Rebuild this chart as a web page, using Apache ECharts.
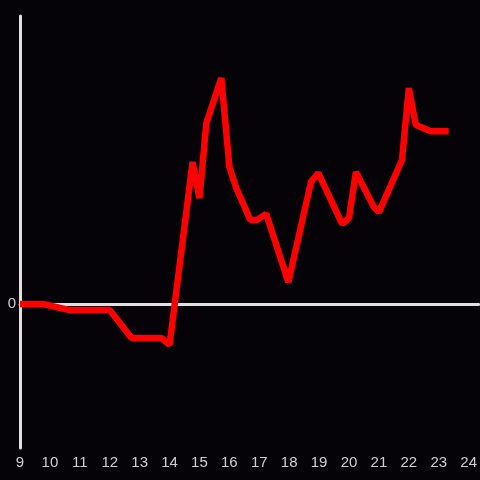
<!DOCTYPE html>
<html>
<head>
<meta charset="utf-8">
<script src="https://cdn.jsdelivr.net/npm/echarts@6/dist/echarts.min.js"></script>
<style>
  html, body { margin: 0; padding: 0; background: #050307; }
  #chart { width: 480px; height: 480px; }
</style>
</head>
<body>
<div id="chart"></div>
<script>
// hours of the day and the value at each
const hours = [9, 9.77, 10.67, 12, 12.73, 13.73, 14, 14.77, 15, 15.23, 15.73, 16, 16.23, 16.7, 16.93, 17.23, 17.97, 18.73, 18.97, 19.77, 20, 20.23, 20.83, 21, 21.77, 22, 22.23, 22.73, 23.33];
const values = [0, 0, -0.21, -0.21, -1.18, -1.18, -1.42, 4.93, 3.68, 6.28, 7.85, 4.76, 4.03, 2.92, 2.92, 3.13, 0.76, 4.24, 4.55, 2.78, 2.99, 4.58, 3.37, 3.19, 5.0, 7.5, 6.22, 6.0, 6.0];
const xTicks = [9, 10, 11, 12, 13, 14, 15, 16, 17, 18, 19, 20, 21, 22, 23, 24];

const chart = echarts.init(document.getElementById("chart"));
const axisGray = "#e0e0e0";
const labelGray = "#cfcfcf";

chart.setOption({
  backgroundColor: "#050307",
  animation: false,
  grid: { left: 20, right: 0, top: 16, bottom: 32 },
  xAxis: [
    {
      type: "value",
      min: 9,
      max: 24 + 1 / 3,
      interval: 1,
      axisLine: { show: false, onZero: false },
      axisTick: { show: false },
      splitLine: { show: false },
      axisLabel: {
        color: labelGray,
        fontSize: 15,
        margin: 7,
        showMaxLabel: false,
        formatter: (v) => (xTicks.includes(v) ? String(v) : ""),
      },
    },
    {
      // the zero line across the plot
      type: "value",
      min: 9,
      max: 24 + 1 / 3,
      position: "bottom",
      axisLine: { show: true, onZero: true, lineStyle: { color: axisGray, width: 3 } },
      axisTick: { show: false },
      axisLabel: { show: false },
      splitLine: { show: false },
    },
  ],
  yAxis: {
    type: "value",
    min: -5,
    max: 10,
    interval: 5,
    axisLine: { show: true, onZero: false, lineStyle: { color: axisGray, width: 3 } },
    axisTick: { show: false },
    splitLine: { show: false },
    axisLabel: {
      color: labelGray,
      fontSize: 15,
      margin: 4,
      formatter: (v) => (v === 0 ? "0" : ""),
    },
  },
  series: [
    {
      type: "line",
      xAxisIndex: 0,
      data: hours.map((h, i) => [h, values[i]]),
      showSymbol: false,
      z: 5,
      lineStyle: { color: "#ff0000", width: 6.5 },
    },
  ],
});
</script>
</body>
</html>
